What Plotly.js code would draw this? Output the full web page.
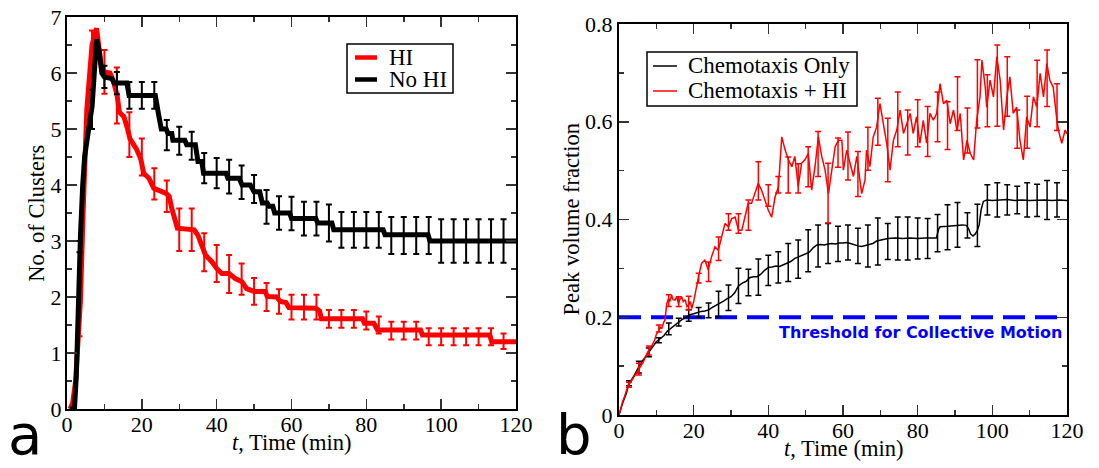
<!DOCTYPE html>
<html><head><meta charset="utf-8">
<script src="https://cdn.plot.ly/plotly-3.0.1.min.js"></script>
<style>html,body{margin:0;padding:0;background:#fff}#chart{width:1099px;height:468px}</style>
</head><body><div id="chart"></div>
<script>
// ---------- Panel a: number of clusters ----------
const hiT = [0.8,1.5,2.3,3.1,3.6,4.3,5.3,6.2,6.7,7.9,8.6,9.3,10,11.5,12.4,13.4,14,15.2,16.2,16.8,18.5,19.7,20.5,21.9,23.2,25,26.5,27.3,28,29.5,34,35,36.2,37,38.7,40,41.4,43.3,45,46.8,48,50,53,53.5,56,57,58.5,59.3,66.5,67.5,68,79,79.5,82,83,94.5,95,113,113.5,120];
const hiV = [0,0.1,0.5,1.3,1.95,3.5,5.35,6.1,6.5,6.8,6.45,6.05,6.02,6.0,5.85,5.6,5.3,5.22,5.0,4.83,4.65,4.47,4.21,4.12,3.94,3.9,3.85,3.8,3.58,3.23,3.2,3.1,2.9,2.75,2.63,2.51,2.42,2.42,2.33,2.27,2.15,2.1,2.1,2.01,2.0,1.92,1.9,1.81,1.8,1.75,1.61,1.61,1.53,1.53,1.41,1.41,1.32,1.32,1.2,1.2];
const noHiT = [0.8,2.0,2.5,3.1,3.6,4.2,4.7,5.8,6.7,7.3,7.9,8.6,9.3,10,12,12.6,16,16.6,23.6,24.5,25.2,26.5,27,28,28.3,31.5,32,34.3,35,36,36.5,42.5,43,46,46.8,49,50,51.5,52.2,53.5,54,55,55.5,59.5,60,66.5,67,70.8,71.3,84.5,85,96.5,97,120];
const noHiV = [0,0,0.6,2.1,3.1,4.0,4.5,5.0,5.4,6.0,6.6,6.4,6.0,5.93,5.9,5.82,5.82,5.6,5.6,5.25,5.0,5.0,4.92,4.92,4.8,4.8,4.72,4.72,4.42,4.42,4.21,4.21,4.12,4.12,4.0,4.0,3.88,3.88,3.68,3.68,3.62,3.62,3.5,3.5,3.4,3.4,3.32,3.32,3.2,3.2,3.11,3.11,3.0,3.0];
const barTA = [3.33,6.67,10,13.33,16.67,20,23.33,26.67,30,33.33,36.67,40,43.33,46.67,50,53.33,56.67,60,63.33,66.67,70,73.33,76.67,80,83.33,86.67,90,93.33,96.67,100,103.33,106.67,110,113.33,116.67];
const hiBarC = [1.6,6.45,6.02,5.6,4.9,4.5,4.02,3.8,3.2,3.2,2.8,2.6,2.41,2.32,2.1,2.0,1.92,1.82,1.82,1.82,1.61,1.61,1.61,1.58,1.5,1.4,1.4,1.4,1.29,1.29,1.29,1.29,1.29,1.29,1.21];
const hiBarE = [0.3,0.31,0.39,0.5,0.4,0.33,0.28,0.28,0.38,0.38,0.34,0.33,0.34,0.28,0.24,0.25,0.22,0.22,0.22,0.22,0.16,0.16,0.16,0.16,0.15,0.16,0.16,0.16,0.15,0.15,0.15,0.15,0.15,0.15,0.14];
const noHiBarC = [2.9,5.35,5.93,5.82,5.6,5.6,5.6,4.89,4.79,4.7,4.3,4.21,4.15,4.05,3.93,3.61,3.5,3.49,3.4,3.4,3.32,3.2,3.2,3.2,3.2,3.1,3.1,3.1,3.1,3.0,3.0,3.0,3.0,3.0,3.0];
const noHiBarE = [0.1,0.35,0.2,0.2,0.24,0.24,0.24,0.27,0.25,0.25,0.27,0.27,0.3,0.3,0.25,0.3,0.3,0.3,0.3,0.3,0.33,0.32,0.32,0.32,0.32,0.33,0.33,0.33,0.33,0.39,0.39,0.39,0.39,0.39,0.39];
const legendA = ['HI', 'No HI'];

// ---------- Panel b: peak volume fraction ----------
const chemT = [0,0.5,1,1.5,2,2.5,3,4,5,6,7,8,9,10,11,12,13,14,15,16,17,18,19,20,21,22,23,24,25,26,27,28,29,30,31,32,33,34,35,36,37,38,39,40,41,42,43,44,45,46,47,48,49,50,51,52,53,54,55,56,57,58,59,60,61,62,63,64,65,66,67,68,69,70,71,72,74,76,78,80,82,84,85,85.6,86,88,90,92,93,93.6,94.2,94.8,95.4,96,96.5,97,97.6,98.5,100,102,104,106,108,110,112,114,116,118,120];
const chemV = [0,0.015,0.025,0.035,0.045,0.06,0.068,0.08,0.095,0.108,0.118,0.128,0.138,0.15,0.156,0.162,0.172,0.178,0.185,0.19,0.196,0.2,0.205,0.207,0.21,0.212,0.213,0.215,0.22,0.224,0.229,0.233,0.238,0.242,0.25,0.264,0.27,0.273,0.281,0.283,0.283,0.288,0.296,0.302,0.303,0.305,0.304,0.307,0.31,0.314,0.32,0.323,0.326,0.33,0.333,0.342,0.348,0.349,0.348,0.35,0.351,0.35,0.352,0.352,0.353,0.351,0.348,0.346,0.345,0.347,0.348,0.351,0.356,0.358,0.36,0.361,0.362,0.361,0.362,0.361,0.362,0.361,0.362,0.38,0.385,0.386,0.388,0.389,0.388,0.382,0.37,0.366,0.37,0.378,0.39,0.42,0.437,0.44,0.439,0.44,0.441,0.439,0.44,0.439,0.44,0.44,0.439,0.44,0.439];
const chemHiT = [0,0.5,1,1.5,2,2.5,3,3.5,4,4.5,5,5.5,6,6.5,7,7.5,8,8.5,9,9.5,10,10.5,11,11.5,12,12.3,12.8,13.2,13.6,14.1,14.5,15,15.5,15.9,16.4,16.8,17.2,17.7,18.2,18.6,19.1,19.5,20,20.4,21.3,22.1,23,23.9,24.8,25.7,26.6,27.5,28.4,29.3,30.2,31.1,32,32.9,33.8,34.6,35.5,36.4,37.3,38.2,39.1,40,40.9,41.8,42.7,43.6,44.5,45.4,46.3,47.1,48,48.9,49.8,50.7,51.6,52.5,53.4,54.3,55.2,56.1,57,57.9,58.8,59.7,60.1,61,61.9,62.8,63.7,64.6,65,65.9,66.3,67.2,68.1,69,69.9,70.8,71.7,72.6,73.5,74.4,75.3,76.2,77.1,78,78.8,79.7,80.6,81.5,82.4,83.3,84.2,85.1,86,86.9,87.8,88.7,89.6,90.5,91.4,92.3,93.2,94.1,95,95.8,96.7,97.2,98.1,98.5,99.4,100.3,101.2,102.1,103,103.9,104.7,105.6,106.5,107.4,108.3,109.2,110.1,111,111.9,112.8,113.7,114.6,115.4,116.3,117.2,117.7,118.6,119.5,120];
const chemHiV = [0,0.015,0.028,0.038,0.05,0.062,0.066,0.072,0.078,0.084,0.09,0.096,0.1,0.108,0.118,0.126,0.133,0.138,0.145,0.152,0.165,0.17,0.18,0.178,0.19,0.194,0.228,0.238,0.232,0.245,0.236,0.235,0.242,0.228,0.238,0.242,0.232,0.236,0.222,0.225,0.232,0.218,0.232,0.249,0.283,0.31,0.317,0.297,0.324,0.344,0.337,0.365,0.392,0.385,0.402,0.405,0.378,0.378,0.405,0.433,0.433,0.453,0.474,0.46,0.44,0.419,0.405,0.446,0.467,0.569,0.542,0.522,0.508,0.529,0.467,0.515,0.522,0.535,0.46,0.508,0.569,0.529,0.501,0.453,0.501,0.549,0.562,0.562,0.501,0.542,0.515,0.488,0.529,0.467,0.453,0.481,0.542,0.508,0.569,0.589,0.637,0.596,0.556,0.501,0.562,0.583,0.624,0.576,0.596,0.617,0.576,0.61,0.556,0.603,0.556,0.617,0.603,0.617,0.678,0.637,0.644,0.596,0.624,0.583,0.617,0.522,0.562,0.535,0.522,0.603,0.651,0.726,0.671,0.63,0.685,0.651,0.733,0.685,0.583,0.651,0.692,0.617,0.63,0.562,0.522,0.61,0.589,0.651,0.63,0.699,0.651,0.719,0.685,0.671,0.61,0.583,0.556,0.583,0.575];
const barTB = [2.67,5.33,8,10.67,13.33,16,18.67,21.33,24,26.67,29.33,32,34.67,37.33,40,42.67,45.33,48,50.67,53.33,56,58.67,61.33,64,66.67,69.33,72,74.67,77.33,80,82.67,85.33,88,90.67,93.33,96,98.67,101.33,104,106.67,109.33,112,114.67,117.33];
const chemBarC = [0.065,0.098,0.128,0.153,0.176,0.19,0.204,0.21,0.214,0.227,0.24,0.264,0.271,0.282,0.296,0.302,0.312,0.319,0.336,0.346,0.351,0.35,0.353,0.346,0.346,0.355,0.355,0.361,0.361,0.361,0.361,0.372,0.384,0.389,0.388,0.388,0.44,0.44,0.44,0.44,0.44,0.439,0.44,0.44];
const chemBarE = [0.005,0.012,0.009,0.005,0.012,0.008,0.012,0.01,0.015,0.026,0.026,0.036,0.027,0.037,0.031,0.032,0.039,0.039,0.043,0.043,0.041,0.036,0.036,0.036,0.043,0.048,0.037,0.044,0.044,0.042,0.041,0.038,0.046,0.046,0.026,0.043,0.031,0.035,0.031,0.028,0.035,0.033,0.04,0.035];
const chemHiBarC = [0.062,0.094,0.132,0.177,0.234,0.232,0.229,0.28,0.293,0.34,0.395,0.392,0.409,0.479,0.449,0.471,0.491,0.484,0.508,0.534,0.454,0.537,0.53,0.493,0.545,0.6,0.542,0.605,0.578,0.597,0.58,0.61,0.592,0.637,0.582,0.657,0.643,0.674,0.672,0.585,0.599,0.658,0.689,0.63];
const chemHiBarE = [0.005,0.012,0.009,0.007,0.012,0.01,0.014,0.01,0.02,0.024,0.017,0.02,0.031,0.039,0.022,0.017,0.037,0.03,0.041,0.046,0.061,0.03,0.049,0.046,0.044,0.048,0.065,0.056,0.046,0.048,0.051,0.051,0.049,0.055,0.046,0.07,0.053,0.083,0.061,0.039,0.053,0.068,0.058,0.048];
const thresholdT = [0,120];
const thresholdV = [0.2,0.2];
const legendB = ['Chemotaxis Only', 'Chemotaxis + HI'];

const RED = '#ff0000', BLACK = '#000000', BLUE = '#0000ff';
const SERIF = 'Liberation Serif, Times New Roman, serif';
const SANS = 'DejaVu Sans, sans-serif';
const W = 1099, H = 468;
const px = v => v / W, py = v => 1 - v / H;

function errTrace(x, y, e, color, th, ax, ay){
  return {x:x, y:y, type:'scatter', mode:'markers', marker:{size:1, color:'rgba(0,0,0,0)'}, showlegend:false, hoverinfo:'skip',
    error_y:{type:'data', array:e, visible:true, color:color, thickness:th, width:3}, xaxis:ax, yaxis:ay};
}

const traces = [
  {x: hiT, y: hiV, type:'scatter', mode:'lines', name:legendA[0], showlegend:false, line:{color:RED, width:5}, xaxis:'x', yaxis:'y'},
  errTrace(barTA, hiBarC, hiBarE, RED, 2, 'x', 'y'),
  {x: noHiT, y: noHiV, type:'scatter', mode:'lines', name:legendA[1], showlegend:false, line:{color:BLACK, width:5}, xaxis:'x', yaxis:'y'},
  errTrace(barTA, noHiBarC, noHiBarE, BLACK, 2, 'x', 'y'),
  {x: thresholdT, y: thresholdV, type:'scatter', mode:'lines', showlegend:false, line:{color:BLUE, width:4, dash:'22px,10px'}, xaxis:'x2', yaxis:'y2'},
  {x: chemT, y: chemV, type:'scatter', mode:'lines', name:legendB[0], showlegend:false, line:{color:BLACK, width:1.5}, xaxis:'x2', yaxis:'y2'},
  errTrace(barTB, chemBarC, chemBarE, BLACK, 1.5, 'x2', 'y2'),
  {x: chemHiT, y: chemHiV, type:'scatter', mode:'lines', name:legendB[1], showlegend:false, line:{color:RED, width:1.5}, xaxis:'x2', yaxis:'y2'},
  errTrace(barTB, chemHiBarC, chemHiBarE, RED, 1.5, 'x2', 'y2')
];

function axisBase(extra){
  return Object.assign({
    showline:true, linecolor:'#000', linewidth:2, mirror:'ticks',
    ticks:'inside', ticklen:10, tickwidth:1.5, tickcolor:'#333',
    showgrid:false, zeroline:false, fixedrange:true,
    tickfont:{family:SERIF, size:22, color:'#000'}
  }, extra);
}
const minorX = {dtick:10, ticks:'inside', ticklen:5, tickwidth:1.5, tickcolor:'#333'};

// legend frames and line keys
const shapes = [
  {type:'rect', xref:'paper', yref:'paper', x0:px(347), x1:px(453), y0:py(93), y1:py(44), line:{color:'#000', width:1.5}, fillcolor:'#fff', layer:'above'},
  {type:'line', xref:'paper', yref:'paper', x0:px(355), x1:px(377), y0:py(57.5), y1:py(57.5), line:{color:RED, width:4.5}, layer:'above'},
  {type:'line', xref:'paper', yref:'paper', x0:px(355), x1:px(377), y0:py(79.5), y1:py(79.5), line:{color:BLACK, width:4.5}, layer:'above'},
  {type:'rect', xref:'paper', yref:'paper', x0:px(647), x1:px(857), y0:py(106), y1:py(52), line:{color:'#000', width:1.5}, fillcolor:'#fff', layer:'above'},
  {type:'line', xref:'paper', yref:'paper', x0:px(653), x1:px(677), y0:py(66), y1:py(66), line:{color:BLACK, width:1.5}, layer:'above'},
  {type:'line', xref:'paper', yref:'paper', x0:px(653), x1:px(677), y0:py(91), y1:py(91), line:{color:RED, width:1.5}, layer:'above'}
];

const legFont = {family:SERIF, size:23, color:'#000'};
const titleFont = {family:SERIF, size:22.5, color:'#000'};
const annotations = [
  {text:legendA[0], xref:'paper', yref:'paper', x:px(387), y:py(57.5), xanchor:'left', yanchor:'middle', showarrow:false, font:legFont},
  {text:legendA[1], xref:'paper', yref:'paper', x:px(387), y:py(79.5), xanchor:'left', yanchor:'middle', showarrow:false, font:legFont},
  {text:legendB[0], xref:'paper', yref:'paper', x:px(686), y:py(66), xanchor:'left', yanchor:'middle', showarrow:false, font:legFont},
  {text:legendB[1], xref:'paper', yref:'paper', x:px(686), y:py(91), xanchor:'left', yanchor:'middle', showarrow:false, font:legFont},
  // axis titles
  {text:'<i>t</i>, Time (min)', xref:'x', yref:'paper', x:60, y:py(442.5), xanchor:'center', yanchor:'middle', showarrow:false, font:titleFont},
  {text:'<i>t</i>, Time (min)', xref:'x2', yref:'paper', x:60, y:py(448.5), xanchor:'center', yanchor:'middle', showarrow:false, font:titleFont},
  {text:'No. of Clusters', xref:'paper', yref:'paper', x:px(36.7), y:py(213), xanchor:'center', yanchor:'middle', textangle:-90, showarrow:false, font:titleFont},
  {text:'Peak volume fraction', xref:'paper', yref:'paper', x:px(571.4), y:py(219), xanchor:'center', yanchor:'middle', textangle:-90, showarrow:false, font:titleFont},
  {text:'Threshold for Collective Motion', xref:'x2', yref:'y2', x:119.3, y:0.168, xanchor:'right', yanchor:'middle', showarrow:false,
   font:{family:SANS, size:16, color:BLUE, weight:'bold'}},
  {text:'a', xref:'paper', yref:'paper', x:px(25), y:py(434), xanchor:'center', yanchor:'middle', showarrow:false,
   font:{family:SANS, size:56, color:'#000'}},
  {text:'b', xref:'paper', yref:'paper', x:px(574), y:py(434), xanchor:'center', yanchor:'middle', showarrow:false,
   font:{family:SANS, size:56, color:'#000'}}
];

const layout = {
  width:W, height:H,
  margin:{l:0, r:0, t:0, b:0},
  paper_bgcolor:'#fff', plot_bgcolor:'#fff',
  font:{family:SERIF, size:22, color:'#000'},
  showlegend:false,
  xaxis: axisBase({domain:[px(67),px(516)], range:[0,120], tick0:0, dtick:20, anchor:'y', minor:minorX, ticklabelstandoff:-5}),
  yaxis: axisBase({domain:[py(409),py(17)], range:[0,7], tick0:0, dtick:1, anchor:'x', ticklabelstandoff:-1,
    minor:{dtick:0.5, ticks:'inside', ticklen:5, tickwidth:1.5, tickcolor:'#333'}}),
  xaxis2: axisBase({domain:[px(619),px(1067)], range:[0,120], tick0:0, dtick:20, anchor:'y2', minor:minorX, ticklabelstandoff:-5}),
  yaxis2: axisBase({domain:[py(415),py(24)], range:[0,0.8], tick0:0, dtick:0.2, anchor:'x2',
    minor:{dtick:0.1, ticks:'inside', ticklen:5, tickwidth:1.5, tickcolor:'#333'}}),
  shapes: shapes,
  annotations: annotations
};

Plotly.newPlot('chart', traces, layout, {staticPlot:true, displayModeBar:false});
</script></body></html>
